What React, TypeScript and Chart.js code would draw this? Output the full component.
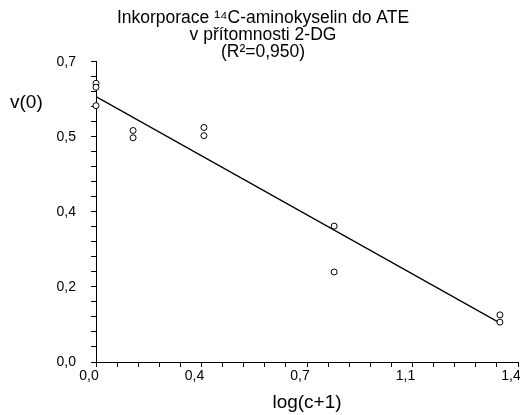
import React, { useEffect, useRef } from 'react';
import { Chart, registerables } from 'chart.js';

Chart.register(...registerables);

// ---- data ----
const xValues = [0, 0, 0, 0.123, 0.123, 0.358, 0.358, 0.79, 0.79, 1.34, 1.34];
const yValues = [0.65, 0.641, 0.598, 0.54, 0.523, 0.547, 0.528, 0.317, 0.21, 0.11, 0.093];
const fitX = [0, 1.335];
const fitY = [0.619, 0.093];
const xTickLabels = ['0,0', '0,4', '0,7', '1,1', '1,4'];
const yTickLabels = ['0,0', '0,2', '0,4', '0,5', '0,7'];
const titleLines = ['Inkorporace ¹⁴C-aminokyselin do ATE', 'v přítomnosti 2-DG', '(R²=0,950)'];
const xAxisTitle = 'log(c+1)';
const yAxisTitle = 'v(0)';

const X_MAX = 1.4;
const Y_MAX = 0.7;
const MINOR_COUNT = 20;
const MINOR_PER_MAJOR = 5;
const FONT = '"Liberation Sans", Arial, sans-serif';

const yTitlePlugin = {
  id: 'yTitleHorizontal',
  afterDraw(chart: any) {
    const ctx = chart.ctx;
    ctx.save();
    ctx.font = `19px ${FONT}`;
    ctx.fillStyle = '#000';
    ctx.textAlign = 'left';
    ctx.textBaseline = 'middle';
    ctx.fillText(yAxisTitle, 2, 95);
    ctx.restore();
  },
};

export default function App() {
  const canvasRef = useRef<HTMLCanvasElement | null>(null);

  useEffect(() => {
    document.documentElement.style.overflow = 'hidden';
    const canvas = canvasRef.current;
    if (!canvas) return;

    const points = xValues.map((x, i) => ({ x, y: yValues[i] }));
    const fit = fitX.map((x, i) => ({ x, y: fitY[i] }));

    const chart = new Chart(canvas, {
      type: 'scatter',
      data: {
        datasets: [
          {
            label: 'data',
            data: points,
            showLine: false,
            pointStyle: 'circle',
            pointRadius: 3,
            pointBorderWidth: 1,
            pointBorderColor: '#000',
            pointBackgroundColor: '#fff',
            clip: false as any,
          },
          {
            label: 'fit',
            data: fit,
            showLine: true,
            pointRadius: 0,
            borderColor: '#000',
            borderWidth: 1.2,
            clip: false as any,
          },
        ],
      },
      options: {
        animation: false,
        responsive: true,
        maintainAspectRatio: false,
        layout: { padding: { left: 0, right: 10, top: 0, bottom: 0 } },
        plugins: {
          legend: { display: false },
          tooltip: { enabled: false },
          title: {
            display: true,
            text: titleLines,
            color: '#000',
            font: { family: FONT, size: 17.5, weight: 'normal', lineHeight: 0.97 },
            padding: { top: 1.5, bottom: 1.5 },
          },
        },
        scales: {
          x: {
            type: 'linear',
            min: 0,
            max: X_MAX,
            afterBuildTicks: (scale: any) => {
              scale.ticks = Array.from({ length: MINOR_COUNT + 1 }, (_, i) => ({ value: (i * X_MAX) / MINOR_COUNT }));
            },
            afterFit: (scale: any) => {
              scale.height = 53;
              scale.paddingLeft = 0;
              scale.paddingRight = 0;
            },
            ticks: {
              autoSkip: false,
              maxRotation: 0,
              minRotation: 0,
              padding: 1,
              labelOffset: -7,
              color: '#000',
              font: { family: FONT, size: 14 },
              callback: (_v: any, index: number) =>
                index % MINOR_PER_MAJOR === 0 ? xTickLabels[index / MINOR_PER_MAJOR] : '',
            },
            grid: { drawOnChartArea: false, drawTicks: true, tickLength: 5, color: '#000', lineWidth: 1 },
            border: { display: true, color: '#000', width: 1 },
            title: {
              display: true,
              text: xAxisTitle,
              color: '#000',
              font: { family: FONT, size: 19 },
              padding: { top: 0, bottom: 0.6 },
            },
          },
          y: {
            type: 'linear',
            min: 0,
            max: Y_MAX,
            afterBuildTicks: (scale: any) => {
              scale.ticks = Array.from({ length: MINOR_COUNT + 1 }, (_, i) => ({ value: (i * Y_MAX) / MINOR_COUNT }));
            },
            afterFit: (scale: any) => {
              scale.width = 88;
            },
            ticks: {
              autoSkip: false,
              padding: 15,
              color: '#000',
              font: { family: FONT, size: 14 },
              callback: (_v: any, index: number) =>
                index % MINOR_PER_MAJOR === 0 ? yTickLabels[index / MINOR_PER_MAJOR] : '',
            },
            grid: { drawOnChartArea: false, drawTicks: true, tickLength: 5, color: '#000', lineWidth: 1 },
            border: { display: true, color: '#000', width: 1 },
          },
        },
      },
      plugins: [yTitlePlugin],
    });

    return () => chart.destroy();
  }, []);

  return (
    <div style={{ position: 'relative', width: 520, height: 407 }}>
      <canvas ref={canvasRef} />
    </div>
  );
}
